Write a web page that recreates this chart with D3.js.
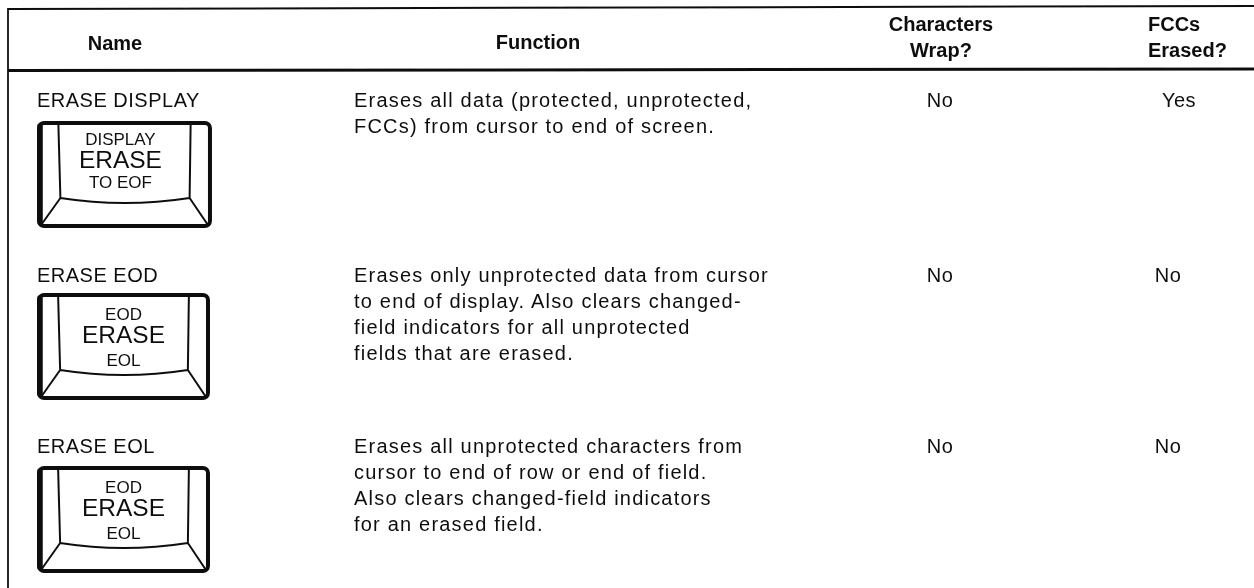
<!DOCTYPE html>
<html>
<head>
<meta charset="utf-8">
<script src="https://cdn.jsdelivr.net/npm/d3@7"></script>
<style>
  html, body { margin: 0; background: #fff; }
  text { font-family: "Liberation Sans", Arial, sans-serif; fill: #111; }
  .head { font-weight: bold; font-size: 20px; }
  .cell { font-size: 20px; letter-spacing: 0.5px; }
  .fn { letter-spacing: 1.2px; }
</style>
</head>
<body>
<div id="table"></div>
<script>
// table contents
var names = ['ERASE DISPLAY', 'ERASE EOD', 'ERASE EOL'];
var functions = [
    ['Erases all data (protected, unprotected,', 'FCCs) from cursor to end of screen.'],
    ['Erases only unprotected data from cursor', 'to end of display. Also clears changed-', 'field indicators for all unprotected', 'fields that are erased.'],
    ['Erases all unprotected characters from', 'cursor to end of row or end of field.', 'Also clears changed-field indicators', 'for an erased field.']
];
var wraps = ['No', 'No', 'No'];
var erased = ['Yes', 'No', 'No'];
var keyTops = ['DISPLAY', 'EOD', 'EOD'];
var keyMids = ['ERASE', 'ERASE', 'ERASE'];
var keyBots = ['TO EOF', 'EOL', 'EOL'];

var width = 1254,
    height = 588,
    linePitch = 26;

var svg = d3.select('#table').append('svg')
    .attr('width', width)
    .attr('height', height)
    .style('display', 'block');

// the page is a scan, so soften everything a touch
svg.append('filter').attr('id', 'scan')
    .append('feGaussianBlur').attr('stdDeviation', 0.35);
var page = svg.append('g').attr('filter', 'url(#scan)');

// column anchors
var colX = d3.scaleOrdinal()
    .domain(['name', 'func', 'wrap'])
    .range([37, 354, 940]);
// the last column is not quite straight in the original
var fccX = d3.scaleOrdinal().domain(names).range([1179, 1168, 1168]);

// baseline of the first line in each row, and where its key starts
var rowY = d3.scaleOrdinal().domain(names).range([107, 282, 453]);
var keyTopY = d3.scaleOrdinal().domain(names).range([121, 293, 466]);
var keyWidth = d3.scaleOrdinal().domain(names).range([175, 173, 173]);

// frame, very slightly tilted like the scan
var rules = page.append('g').attr('stroke', '#111').attr('fill', 'none');
rules.append('path').attr('stroke-width', 1.8).attr('d', 'M8,8V588');
rules.append('path').attr('stroke-width', 2).attr('d', 'M8,9L1254,6');
rules.append('path').attr('stroke-width', 3).attr('d', 'M8,70.5L1254,69');

// header
function head(x, y, str, anchor) {
    page.append('text').attr('class', 'head').attr('x', x).attr('y', y)
        .attr('text-anchor', anchor || 'middle').text(str);
}
head(115, 50, 'Name');
head(538, 49, 'Function');
head(941, 31, 'Characters');
head(941, 57, 'Wrap?');
head(1148, 31, 'FCCs', 'start');
head(1148, 57, 'Erased?', 'start');

// key cap, drawn in its own 0..172 / 0..108 box
function keyCap(g, w) {
    var keyX = d3.scaleLinear().domain([0, 172]).range([0, w]);
    var keyY = d3.scaleLinear().domain([0, 108]).range([0, 108]);

    g.append('rect')
        .attr('x', keyX(2)).attr('y', keyY(2))
        .attr('width', keyX(168)).attr('height', keyY(103))
        .attr('rx', 5)
        .attr('fill', '#fff').attr('stroke', '#111').attr('stroke-width', 4);
    // heavier left edge
    g.append('path').attr('stroke', '#111').attr('stroke-width', 5.5)
        .attr('stroke-linecap', 'round').attr('fill', 'none')
        .attr('d', 'M' + keyX(3) + ',' + keyY(101) + 'L' + keyX(3) + ',' + keyY(5));
    var p = d3.path();
    p.moveTo(keyX(21), keyY(3));
    p.lineTo(keyX(23), keyY(77));
    p.quadraticCurveTo(keyX(86), keyY(87), keyX(150), keyY(77));
    p.lineTo(keyX(151), keyY(3));
    p.moveTo(keyX(23), keyY(77));
    p.lineTo(keyX(4), keyY(104));
    p.moveTo(keyX(150), keyY(77));
    p.lineTo(keyX(168), keyY(104));
    g.append('path').attr('d', p.toString())
        .attr('fill', 'none').attr('stroke', '#111').attr('stroke-width', 2);
    return keyX;
}

names.forEach(function(name, i) {
    var y = rowY(name);
    var row = page.append('g');

    row.append('text').attr('class', 'cell').attr('x', colX('name')).attr('y', y).text(name);

    row.selectAll('.fn').data(functions[i]).enter().append('text')
        .attr('class', 'cell fn')
        .attr('x', colX('func'))
        .attr('y', function(d, j) { return y + j * linePitch; })
        .text(function(d) { return d; });

    row.append('text').attr('class', 'cell').attr('x', colX('wrap')).attr('y', y)
        .attr('text-anchor', 'middle').text(wraps[i]);
    row.append('text').attr('class', 'cell').attr('x', fccX(name)).attr('y', y)
        .attr('text-anchor', 'middle').text(erased[i]);

    var key = row.append('g').attr('transform', 'translate(37,' + keyTopY(name) + ')');
    var keyX = keyCap(key, keyWidth(name));
    var offsets = i === 0 ? [24, 47, 67] : [27, 50, 73];
    var labels = [[keyTops[i], offsets[0], 17], [keyMids[i], offsets[1], 24.5], [keyBots[i], offsets[2], 17]];
    labels.forEach(function(l) {
        key.append('text').attr('x', keyX(i === 0 ? 82 : 86)).attr('y', l[1])
            .attr('text-anchor', 'middle').style('font-size', l[2] + 'px').text(l[0]);
    });
});
</script>
</body>
</html>
